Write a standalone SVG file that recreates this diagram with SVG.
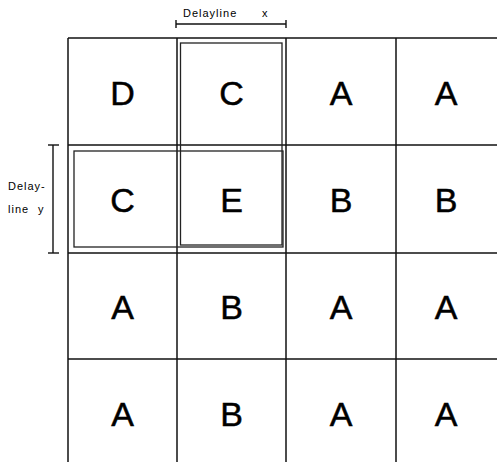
<svg xmlns="http://www.w3.org/2000/svg" width="497" height="462" viewBox="0 0 497 462">
<style>
.grid{stroke:#111;stroke-width:1.5;fill:none}
.win{stroke:#222;stroke-width:1.3;fill:none}
.dim{stroke:#111;stroke-width:1.4;fill:none}
.L{font-family:"Liberation Sans",Arial,sans-serif;font-size:34px;fill:#000;stroke:#000;stroke-width:0.5;text-anchor:middle}
.s{font-family:"Liberation Sans",Arial,sans-serif;font-size:11px;fill:#000;letter-spacing:1px}
</style>
<rect width="497" height="462" fill="#fff"/>
<g id="grid">
<line class="grid" x1="68" y1="38" x2="497" y2="38"/>
<line class="grid" x1="68" y1="145" x2="497" y2="145"/>
<line class="grid" x1="68" y1="253" x2="497" y2="253"/>
<line class="grid" x1="68" y1="359" x2="497" y2="359"/>
<line class="grid" x1="68" y1="38" x2="68" y2="462"/>
<line class="grid" x1="177" y1="38" x2="177" y2="462"/>
<line class="grid" x1="286" y1="38" x2="286" y2="462"/>
<line class="grid" x1="396" y1="38" x2="396" y2="462"/>
</g>
<g id="windows">
<rect class="win" x="180.5" y="43" width="101.5" height="202"/>
<rect class="win" x="74" y="151" width="209" height="96"/>
</g>
<g id="cells">
<text class="L" x="122.5" y="105">D</text>
<text class="L" x="231.5" y="105">C</text>
<text class="L" x="341" y="105">A</text>
<text class="L" x="446" y="105">A</text>
<text class="L" x="122.5" y="212">C</text>
<text class="L" x="231.5" y="212">E</text>
<text class="L" x="341" y="212">B</text>
<text class="L" x="446" y="212">B</text>
<text class="L" x="122.5" y="319">A</text>
<text class="L" x="231.5" y="319">B</text>
<text class="L" x="341" y="319">A</text>
<text class="L" x="446" y="319">A</text>
<text class="L" x="122.5" y="426">A</text>
<text class="L" x="231.5" y="426">B</text>
<text class="L" x="341" y="426">A</text>
<text class="L" x="446" y="426">A</text>
</g>
<g id="delayline-x">
<line class="dim" x1="176" y1="24" x2="286" y2="24"/>
<line class="dim" x1="176" y1="20" x2="176" y2="28"/>
<line class="dim" x1="286" y1="20" x2="286" y2="28"/>
<text class="s" x="183" y="17">Delayline</text>
<text class="s" x="262" y="17">x</text>
</g>
<g id="delayline-y">
<line class="dim" x1="53" y1="145" x2="53" y2="253"/>
<line class="dim" x1="48" y1="145" x2="59" y2="145"/>
<line class="dim" x1="48" y1="253" x2="59" y2="253"/>
<text class="s" x="8" y="190">Delay-</text>
<text class="s" x="8" y="213">line</text>
<text class="s" x="38" y="213">y</text>
</g>
</svg>
